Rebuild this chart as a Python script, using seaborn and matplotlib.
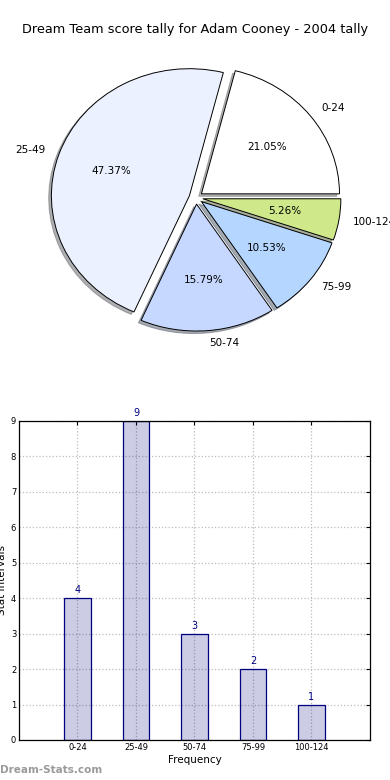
import matplotlib
matplotlib.use('Agg')
import matplotlib.pyplot as plt
import seaborn as sns
import pandas as pd

title = 'Dream Team score tally for Adam Cooney - 2004 tally'
intervals = ['0-24', '25-49', '50-74', '75-99', '100-124']
counts = [4, 9, 3, 2, 1]
pie_colors = ['#ffffff', '#ebf1ff', '#c6d8ff', '#b4d6ff', '#cfe98a']
explode = [0.05, 0.05, 0.05, 0.05, 0.05]

sns.set_style('white')
plt.rcParams['font.family'] = ['DejaVu Sans']
plt.rcParams['text.color'] = 'black'
plt.rcParams['axes.labelcolor'] = 'black'
plt.rcParams['xtick.color'] = 'black'
plt.rcParams['ytick.color'] = 'black'
plt.rcParams['xtick.direction'] = 'in'
plt.rcParams['ytick.direction'] = 'in'

fig = plt.figure(figsize=(3.9, 7.8), dpi=100)
fig.text(0.5, 1 - 30 / 780, title, ha='center', va='center', fontsize=9.3)

# pie (old-style, not forced circular)
ax1 = fig.add_axes([0.06, 0.543, 0.885, 0.407])
ax1.pie(counts, labels=intervals, colors=pie_colors, explode=explode,
        autopct='%.2f%%', shadow=dict(ox=-0.014, oy=-0.014, shade=0.6), startangle=0,
        wedgeprops=dict(edgecolor='black', linewidth=0.7),
        textprops=dict(fontsize=7.5, color='black'))
ax1.set_aspect('auto')
ax1.set_xlim(-1.25, 1.25)
ax1.set_ylim(-1.25, 1.25)

# bars
df = pd.DataFrame({'interval': intervals, 'count': counts})
ax2 = fig.add_axes([0.0487, 0.0513, 0.9, 0.409])
sns.barplot(data=df, x='interval', y='count', ax=ax2, color='#000080',
            saturation=1, width=0.45, edgecolor='#000080', linewidth=0.9)
for p in ax2.patches:
    p.set_facecolor((0, 0, 0.5, 0.2))
    p.set_edgecolor('#000080')
for i, c in enumerate(counts):
    ax2.text(i, c + 0.08, str(c), ha='center', va='bottom', color='#000080', fontsize=7)

ax2.set_xlim(-1, 5)
ax2.set_ylim(0, 9)
ax2.set_yticks(range(10))
ax2.grid(True, linestyle=':', color='#bcbcbc', linewidth=0.9)
ax2.set_axisbelow(True)
for s in ax2.spines.values():
    s.set_color('black')
    s.set_linewidth(0.9)
ax2.tick_params(labelsize=6, length=3, top=True, right=True, pad=2)
ax2.set_xlabel('Frequency', fontsize=7.5, labelpad=2)
ax2.set_ylabel('Stat Intervals', fontsize=7.5, labelpad=3)

fig.text(0.0, 1 - 770 / 780, 'Dream-Stats.com', ha='left', va='center',
         fontsize=7.5, fontweight='bold', color='#9a9a9a')

fig.savefig('out.png', dpi=100)
